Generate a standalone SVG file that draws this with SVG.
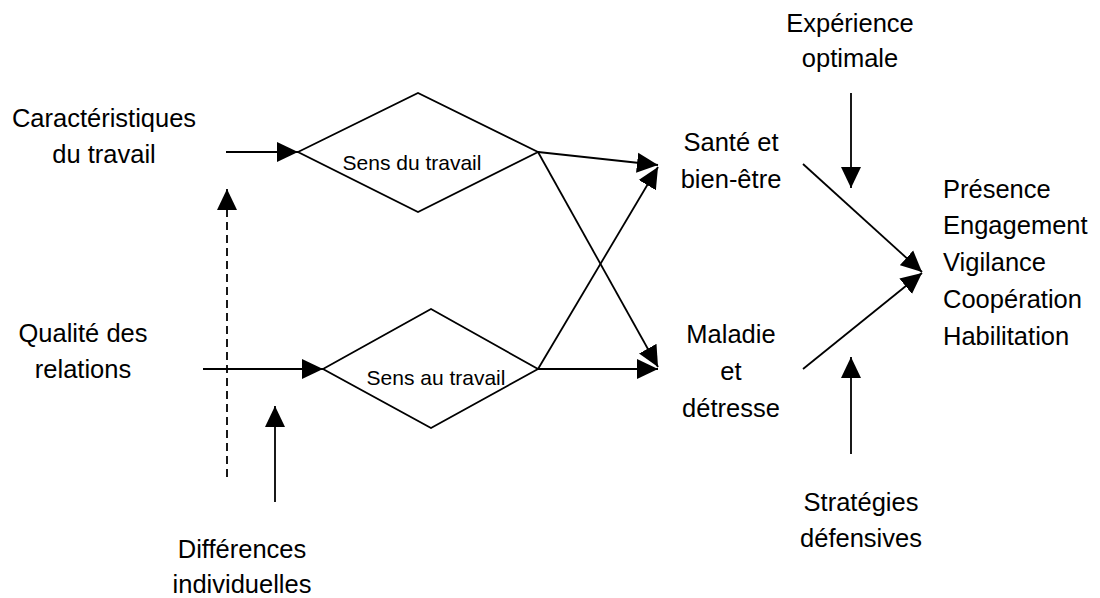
<svg xmlns="http://www.w3.org/2000/svg" width="1100" height="598" viewBox="0 0 1100 598">
<style>
text{font-family:"Liberation Sans",Arial,sans-serif;font-size:25.5px;fill:#000}
.c{text-anchor:middle}
.s{font-size:21px}
.ln{stroke:#000;stroke-width:1.8;fill:none}
.d{stroke-dasharray:8 5}
.dia{stroke:#000;stroke-width:1.8;fill:#fff}
</style>
<defs>
<marker id="ah" markerUnits="userSpaceOnUse" markerWidth="22" markerHeight="22" viewBox="0 0 22 22" refX="21" refY="11" orient="auto">
<path d="M0,1 L21,11 L0,21 Z" fill="#000"/>
</marker>
</defs>
<rect width="1100" height="598" fill="#fff"/>
<g id="connectors">
<line class="ln" x1="226" y1="152" x2="298" y2="152" marker-end="url(#ah)"/>
<line class="ln" x1="203" y1="369" x2="323" y2="369" marker-end="url(#ah)"/>
<line class="ln d" x1="227" y1="477" x2="227" y2="189" marker-end="url(#ah)"/>
<line class="ln" x1="275" y1="502" x2="275" y2="406" marker-end="url(#ah)"/>
<line class="ln" x1="538" y1="152" x2="658" y2="165" marker-end="url(#ah)"/>
<line class="ln" x1="538" y1="152" x2="658" y2="367" marker-end="url(#ah)"/>
<line class="ln" x1="538" y1="369" x2="658" y2="167" marker-end="url(#ah)"/>
<line class="ln" x1="538" y1="369" x2="658" y2="369" marker-end="url(#ah)"/>
<line class="ln" x1="851" y1="93" x2="851" y2="188" marker-end="url(#ah)"/>
<line class="ln" x1="851" y1="454" x2="851" y2="357" marker-end="url(#ah)"/>
<line class="ln" x1="803" y1="164" x2="922" y2="272" marker-end="url(#ah)"/>
<line class="ln" x1="803" y1="369" x2="922" y2="273" marker-end="url(#ah)"/>
</g>
<g id="n-caracteristiques">
<text class="c" x="104" y="127">Caractéristiques</text>
<text class="c" x="104" y="163">du travail</text>
</g>
<g id="n-qualite">
<text class="c" x="83" y="342">Qualité des</text>
<text class="c" x="83" y="378">relations</text>
</g>
<g id="n-differences">
<text class="c" x="242" y="558">Différences</text>
<text class="c" x="242" y="593">individuelles</text>
</g>
<g id="n-sens-du">
<polygon class="dia" points="298,152 418,93 538,152 418,212"/>
<text class="c s" x="412" y="170">Sens du travail</text>
</g>
<g id="n-sens-au">
<polygon class="dia" points="323,369 431,309 538,369 431,428"/>
<text class="c s" x="436" y="385">Sens au travail</text>
</g>
<g id="n-sante">
<text class="c" x="731" y="151">Santé et</text>
<text class="c" x="731" y="188">bien-être</text>
</g>
<g id="n-maladie">
<text class="c" x="731" y="343">Maladie</text>
<text class="c" x="731" y="380">et</text>
<text class="c" x="731" y="417">détresse</text>
</g>
<g id="n-experience">
<text class="c" x="850" y="32">Expérience</text>
<text class="c" x="850" y="67">optimale</text>
</g>
<g id="n-strategies">
<text class="c" x="861" y="511">Stratégies</text>
<text class="c" x="861" y="547">défensives</text>
</g>
<g id="n-resultats">
<text x="943" y="198">Présence</text>
<text x="943" y="234">Engagement</text>
<text x="943" y="271">Vigilance</text>
<text x="943" y="308">Coopération</text>
<text x="943" y="345">Habilitation</text>
</g>
</svg>
